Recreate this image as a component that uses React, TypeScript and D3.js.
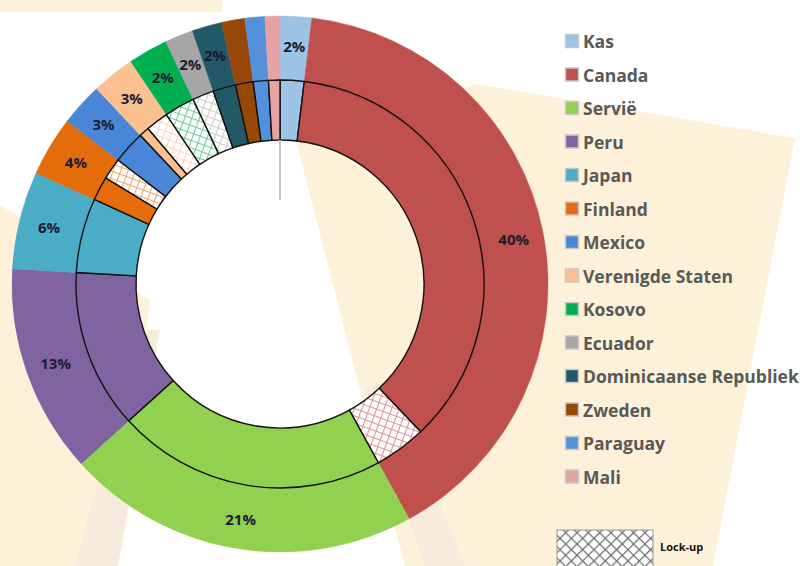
import { useEffect, useRef } from "react";
import * as d3 from "d3";

// countries, clockwise from 12 o'clock
const countries = [
  "Kas", "Canada", "Servië", "Peru", "Japan", "Finland", "Mexico",
  "Verenigde Staten", "Kosovo", "Ecuador", "Dominicaanse Republiek",
  "Zweden", "Paraguay", "Mali",
];
// total share per country (outer ring)
const shares = [1.9, 40.1, 21.3, 12.6, 5.9, 3.6, 2.6, 2.6, 2.4, 1.7, 1.8, 1.4, 1.2, 0.9];
// part of the share that is lock-up (inner ring, hatched)
const lockUp = [0, 4.1, 0, 0, 0, 1.7, 0, 1.8, 2.4, 1.7, 0, 0, 0, 0];
const colors = [
  "#9DC3E6", "#C0504D", "#92D050", "#8064A2", "#4BACC6", "#E46C0A", "#4A86D8",
  "#FAC090", "#00B050", "#A6A6A6", "#215968", "#974806", "#5590DC", "#E6A3A3",
];

export default function App() {
  const svgRef = useRef(null);

  useEffect(() => {
    const svg = d3.select(svgRef.current);
    svg.selectAll("*").remove();

    const width = 800, height = 566;
    svg.attr("width", width).attr("height", height);

    const defs = svg.append("defs");

    // background watermark (light beige rays)
    const bg = svg.append("g");
    const beige = "#FEF1D9";
    const tan = "#F6EBDC";
    [
      [[0, 0], [222, 0], [222, 12], [0, 12]],
      [[296, 140], [477, 84], [795, 138], [713, 566], [405, 566]],
      [[0, 205], [150, 300], [118, 566], [0, 566]],
    ].forEach((pts) => {
      bg.append("polygon").attr("points", pts.map((p) => p.join(",")).join(" ")).attr("fill", beige);
    });
    [
      [[140, 330], [160, 330], [118, 566], [75, 566]],
      [[365, 390], [390, 380], [465, 566], [425, 566]],
    ].forEach((pts) => {
      bg.append("polygon").attr("points", pts.map((p) => p.join(",")).join(" ")).attr("fill", tan);
    });

    // hatch patterns for lock-up slices
    countries.forEach((c, i) => {
      if (!lockUp[i]) return;
      const p = defs.append("pattern")
        .attr("id", "lock-" + i)
        .attr("patternUnits", "userSpaceOnUse")
        .attr("width", 7).attr("height", 7)
        .attr("patternTransform", "rotate(20)");
      p.append("rect").attr("width", 7).attr("height", 7).attr("fill", "#fff");
      p.append("path").attr("d", "M0,0.5H7M0.5,0V7")
        .attr("stroke", colors[i]).attr("stroke-opacity", 0.6).attr("stroke-width", 1.2);
    });
    const lp = defs.append("pattern")
      .attr("id", "lock-legend")
      .attr("patternUnits", "userSpaceOnUse")
      .attr("width", 8).attr("height", 8)
      .attr("patternTransform", "rotate(45)");
    lp.append("rect").attr("width", 8).attr("height", 8).attr("fill", "#fff");
    lp.append("path").attr("d", "M0,0.5H8M0.5,0V8").attr("stroke", "#707070").attr("stroke-width", 1.6);

    const cx = 280, cy = 284;
    const g = svg.append("g").attr("transform", `translate(${cx},${cy})`);

    const total = d3.sum(shares);
    const pie = d3.pie().sort(null).value((d) => d.value).startAngle(0).endAngle(2 * Math.PI);

    // outer ring
    const outer = shares.map((v, i) => ({ i, value: v }));
    const outerArc = d3.arc().innerRadius(204).outerRadius(268);
    g.selectAll(".outer")
      .data(pie(outer))
      .join("path")
      .attr("d", outerArc)
      .attr("fill", (d) => colors[d.data.i])
      .attr("stroke", (d) => colors[d.data.i])
      .attr("stroke-width", 0.5);

    // inner ring: regular part then lock-up part of each country
    const inner = [];
    shares.forEach((v, i) => {
      inner.push({ i, value: v - lockUp[i], lock: false });
      inner.push({ i, value: lockUp[i], lock: true });
    });
    const innerArc = d3.arc().innerRadius(144).outerRadius(204);
    g.selectAll(".inner")
      .data(pie(inner).filter((d) => d.data.value > 0))
      .join("path")
      .attr("d", innerArc)
      .attr("fill", (d) => d.data.lock ? `url(#lock-${d.data.i})` : colors[d.data.i])
      .attr("stroke", "#111")
      .attr("stroke-width", 1.4);

    // gray leader line
    g.append("line")
      .attr("x1", 0).attr("x2", 0).attr("y1", -144).attr("y2", -84)
      .attr("stroke", "#C4C4C4").attr("stroke-width", 2);

    // percent labels
    const labelArc = d3.arc().innerRadius(238).outerRadius(238);
    g.selectAll(".lbl")
      .data(pie(outer).filter((d) => d.data.value >= 1.5))
      .join("text")
      .attr("transform", (d) => `translate(${labelArc.centroid(d)})`)
      .attr("text-anchor", "middle")
      .attr("dominant-baseline", "central")
      .attr("font-family", "'Open Sans', sans-serif")
      .attr("font-weight", "bold")
      .attr("font-size", 15)
      .attr("fill", "#1C1C30")
      .text((d) => Math.round((d.data.value / total) * 100) + "%");

    // legend
    const legend = svg.append("g").attr("transform", "translate(565,41)");
    const row = legend.selectAll("g")
      .data(countries)
      .join("g")
      .attr("transform", (d, i) => `translate(0,${i * 33.5})`);
    row.append("rect")
      .attr("x", 0.5).attr("y", -6.5)
      .attr("width", 13).attr("height", 13)
      .attr("fill", (d, i) => colors[i])
      .attr("stroke", "#C8C8C8").attr("stroke-width", 1.5);
    row.append("text")
      .attr("x", 18)
      .attr("dominant-baseline", "central")
      .attr("font-family", "'Open Sans', sans-serif")
      .attr("font-weight", "bold")
      .attr("font-size", 17.5)
      .attr("fill", "#595959")
      .text((d) => d);

    svg.append("rect")
      .attr("x", 557).attr("y", 530).attr("width", 96).attr("height", 40)
      .attr("fill", "url(#lock-legend)")
      .attr("stroke", "#9A9A9A").attr("stroke-width", 1);
    svg.append("text")
      .attr("x", 660).attr("y", 546)
      .attr("dominant-baseline", "central")
      .attr("font-family", "'Open Sans', sans-serif")
      .attr("font-weight", "bold")
      .attr("font-size", 11)
      .attr("fill", "#111")
      .text("Lock-up");
  }, []);

  return (
    <svg ref={svgRef} style={{ position: "absolute", left: 0, top: 0, display: "block", background: "#fff" }}></svg>
  );
}
